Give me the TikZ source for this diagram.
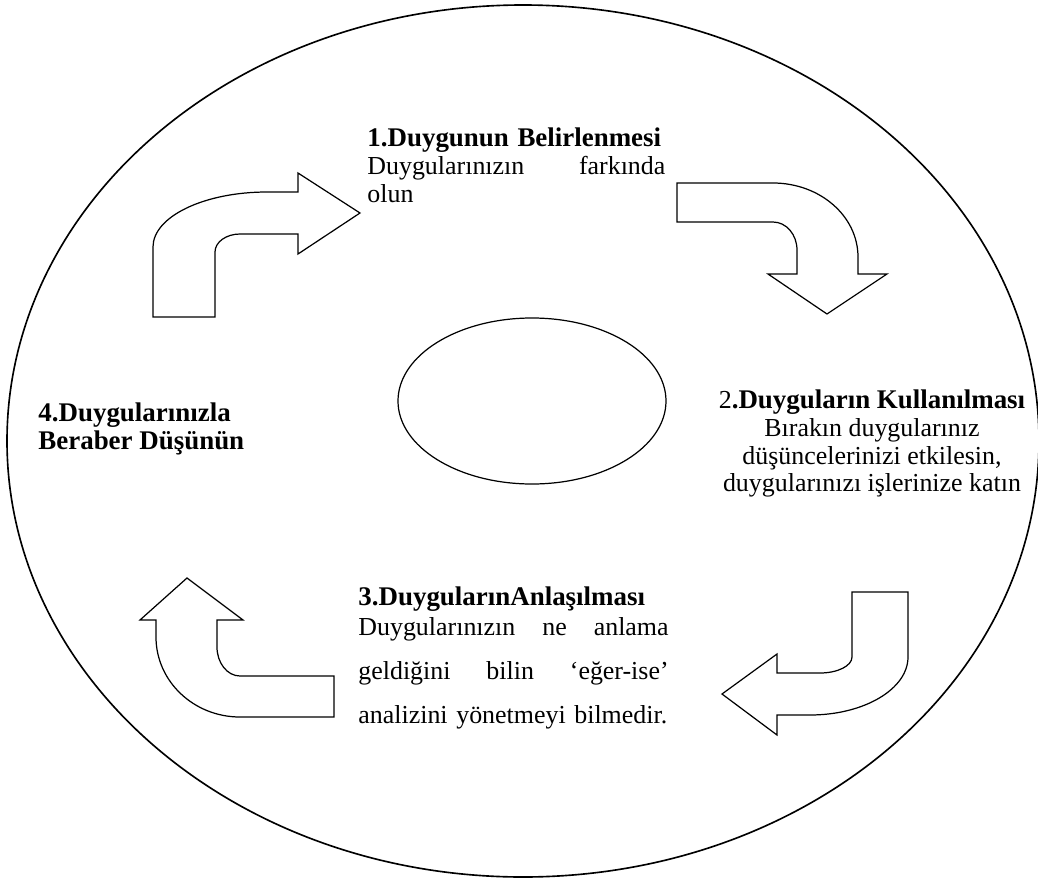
\documentclass[tikz,border=0pt]{standalone}
\usepackage{fontspec}
\setmainfont{Liberation Serif}
\newcommand\baslik[1]{\mbox{\fontsize{13.2}{13.7}\selectfont\bfseries #1}}
\begin{document}
\begin{tikzpicture}[x=0.49pt,y=-0.49pt]
    \tikzset{okline/.style={line width=0.6pt, line join=miter},
             metin/.style={inner sep=0pt, font=\fontsize{12.7}{13.7}\selectfont}}
    \useasboundingbox (0,0) rectangle (1038,878);
    \draw [line width=0.8pt] (523,441) ellipse [x radius=516, y radius=436];
    \draw [line width=0.6pt] (532,401) ellipse [x radius=134, y radius=83];
    % bent arrows
    \draw [okline] (153,317) -- (153,247) arc[start angle=180, end angle=270, x radius=114, y radius=55]
        -- (298,192) -- (298,173) -- (360,213) -- (298,254) -- (298,234) -- (240,234)
        arc[start angle=270, end angle=180, x radius=25, y radius=18] -- (215,317) -- cycle;
    \draw [okline] (677,183) -- (773,183) arc[start angle=270, end angle=360, x radius=85, y radius=74]
        -- (858,274) -- (887,274) -- (827,314) -- (768,274) -- (797,274) -- (797,250)
        arc[start angle=0, end angle=-90, x radius=24, y radius=28] -- (677,222) -- cycle;
    \draw [okline] (852,592) -- (908,592) -- (908,657) arc[start angle=0, end angle=90, x radius=98, y radius=58]
        -- (777,715) -- (777,735) -- (722,694) -- (777,654) -- (777,673) -- (820,673)
        arc[start angle=90, end angle=0, x radius=32, y radius=16] -- cycle;
    \draw [okline] (334,717) -- (240,717) arc[start angle=90, end angle=180, x radius=84, y radius=80]
        -- (156,620) -- (140,620) -- (187,578) -- (243,620) -- (217,620) -- (217,647)
        arc[start angle=180, end angle=90, x radius=23, y radius=29] -- (334,676) -- cycle;
    % texts
    \node (belirle) [metin, anchor=north west, text width=146pt, align=left] at (367,127)
        {\baslik{1.Duygunun Belirlenmesi}\\ Duygularınızın\hfill farkında\\ olun};
    \node (kullan) [metin, anchor=north, align=center] at (872,389)
        {2\baslik{.Duyguların Kullanılması}\\ Bırakın duygularınız\\ düşüncelerinizi etkilesin,\\ duygularınızı işlerinize katın};
    \node (anlas) [metin, anchor=north west, text width=152pt, align=left] at (358,586)
        {\baslik{3.DuygularınAnlaşılması}\\[1pt] Duygularınızın\hfill ne\hfill anlama\\[8pt]
         geldiğini\hfill bilin\hfill ‘eğer-ise’\\[8pt] \mbox{analizini yönetmeyi bilmedir.}};
    \node (dusun) [metin, anchor=north west, align=left] at (38,402)
        {\baslik{4.Duygularınızla}\\ \baslik{Beraber Düşünün}};
\end{tikzpicture}
\end{document}
